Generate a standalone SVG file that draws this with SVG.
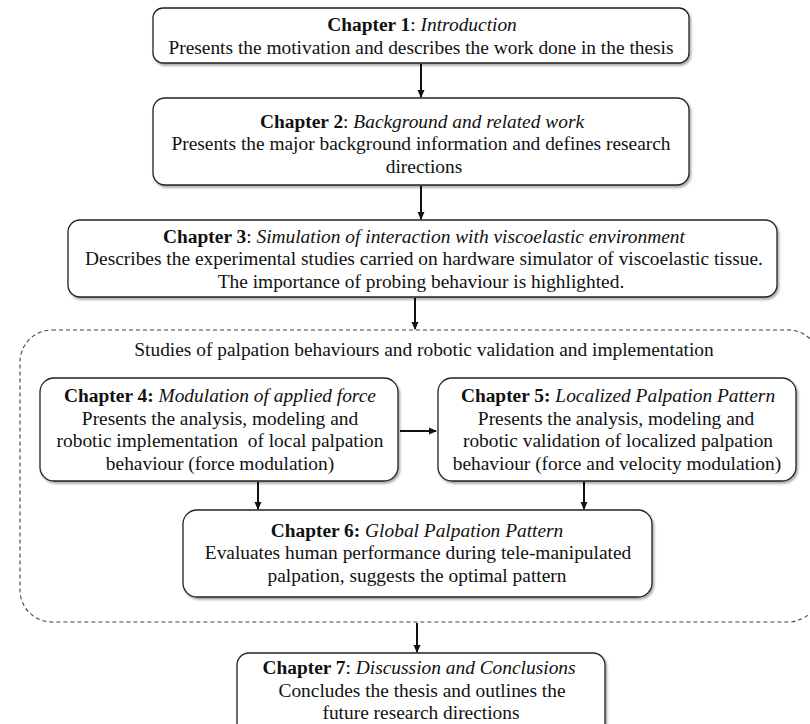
<svg xmlns="http://www.w3.org/2000/svg" width="810" height="724" viewBox="0 0 810 724">
<style>
.box{fill:#fff;stroke:#222;stroke-width:1.3;filter:url(#sh)}
.t{font-family:"Liberation Serif","Times New Roman",serif;font-size:19.4px;fill:#111;text-anchor:middle}
.b{font-weight:bold}
.i{font-style:italic}
.ln{stroke:#111;stroke-width:2;fill:none;marker-end:url(#ah)}
.dash{fill:none;stroke:#444;stroke-width:1.1;stroke-dasharray:4 3}
</style>
<defs>
<marker id="ah" markerWidth="8" markerHeight="8" refX="7" refY="4" orient="auto" markerUnits="userSpaceOnUse">
<path d="M0,0.5 L8,4 L0,7.5 Z" fill="#111"/>
</marker>
<filter id="sh" x="-5%" y="-10%" width="110%" height="125%">
<feDropShadow dx="1.5" dy="2" stdDeviation="1.3" flood-color="#000" flood-opacity="0.35"/>
</filter>
</defs>
<rect width="810" height="724" fill="#fff"/>
<g id="group-studies">
<rect class="dash" x="20" y="330" width="800" height="292" rx="32"/>
<text class="t" x="424" y="356">Studies of palpation behaviours and robotic validation and implementation</text>
</g>
<g id="connectors">
<line class="ln" x1="421" y1="64" x2="421" y2="97"/>
<line class="ln" x1="421" y1="186" x2="421" y2="219"/>
<line class="ln" x1="415" y1="298" x2="415" y2="329"/>
<line class="ln" x1="400" y1="431" x2="436" y2="431"/>
<line class="ln" x1="258" y1="482" x2="258" y2="509"/>
<line class="ln" x1="584" y1="482" x2="584" y2="509"/>
<line class="ln" x1="417" y1="623" x2="417" y2="652"/>
</g>
<g id="ch1">
<rect class="box" x="153" y="8" width="536" height="55" rx="10"/>
<text class="t" x="422" y="31"><tspan class="b">Chapter 1</tspan>: <tspan class="i">Introduction</tspan></text>
<text class="t" x="421" y="54">Presents the motivation and describes the work done in the thesis</text>
</g>
<g id="ch2">
<rect class="box" x="153" y="98" width="536" height="87" rx="12"/>
<text class="t" x="422" y="128"><tspan class="b">Chapter 2</tspan>: <tspan class="i">Background and related work</tspan></text>
<text class="t" x="421" y="150">Presents the major background information and defines research</text>
<text class="t" x="424" y="173">directions</text>
</g>
<g id="ch3">
<rect class="box" x="68" y="220" width="709" height="77" rx="12"/>
<text class="t" x="424" y="243"><tspan class="b">Chapter 3</tspan>: <tspan class="i">Simulation of interaction with viscoelastic environment</tspan></text>
<text class="t" x="424" y="265">Describes the experimental studies carried on hardware simulator of viscoelastic tissue.</text>
<text class="t" x="421" y="288">The importance of probing behaviour is highlighted.</text>
</g>
<g id="ch4">
<rect class="box" x="40" y="378" width="358" height="103" rx="14"/>
<text class="t" x="220" y="402"><tspan class="b">Chapter 4:</tspan> <tspan class="i">Modulation of applied force</tspan></text>
<text class="t" x="220" y="425">Presents the analysis, modeling and</text>
<text class="t" x="220" y="447" xml:space="preserve">robotic implementation  of local palpation</text>
<text class="t" x="220" y="470">behaviour (force modulation)</text>
</g>
<g id="ch5">
<rect class="box" x="438" y="378" width="358" height="103" rx="14"/>
<text class="t" x="618" y="402"><tspan class="b">Chapter 5:</tspan> <tspan class="i">Localized Palpation Pattern</tspan></text>
<text class="t" x="616" y="425">Presents the analysis, modeling and</text>
<text class="t" x="618" y="447">robotic validation of localized palpation</text>
<text class="t" x="617" y="470">behaviour (force and velocity modulation)</text>
</g>
<g id="ch6">
<rect class="box" x="183" y="510" width="469" height="87" rx="14"/>
<text class="t" x="417" y="537"><tspan class="b">Chapter 6:</tspan> <tspan class="i">Global Palpation Pattern</tspan></text>
<text class="t" x="418" y="559">Evaluates human performance during tele-manipulated</text>
<text class="t" x="417" y="582">palpation, suggests the optimal pattern</text>
</g>
<g id="ch7">
<rect class="box" x="237" y="653" width="368" height="90" rx="12"/>
<text class="t" x="419" y="674"><tspan class="b">Chapter 7</tspan>: <tspan class="i">Discussion and Conclusions</tspan></text>
<text class="t" x="422" y="697">Concludes the thesis and outlines the</text>
<text class="t" x="421" y="719">future research directions</text>
</g>
</svg>
